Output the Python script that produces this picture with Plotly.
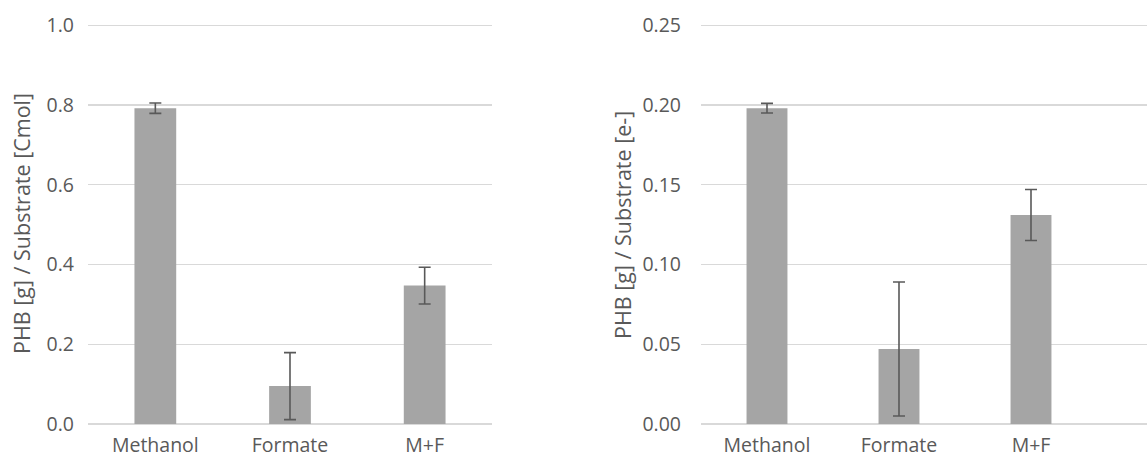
import plotly.graph_objects as go

categories = ["Methanol", "Formate", "M+F"]
cmol_values = [0.792, 0.095, 0.347]
cmol_errors = [0.013, 0.084, 0.046]
electron_values = [0.198, 0.047, 0.131]
electron_errors = [0.003, 0.042, 0.016]

left_ticks = [0.0, 0.2, 0.4, 0.6, 0.8, 1.0]
left_tick_text = ["0.0", "0.2", "0.4", "0.6", "0.8", "1.0"]
right_ticks = [0.0, 0.05, 0.10, 0.15, 0.20, 0.25]
right_tick_text = ["0.00", "0.05", "0.10", "0.15", "0.20", "0.25"]

W, H = 1147, 467
BAR = "#A5A5A5"
ERR = "#595959"
GRID = "#D9D9D9"
TXT = "#595959"
FONT = "Open Sans"
FS = 19.5
FT = 21.5

fig = go.Figure()
fig.add_trace(go.Bar(
    x=categories, y=cmol_values, marker_color=BAR, marker_line_width=0,
    error_y=dict(type="data", array=cmol_errors, color=ERR, thickness=1.6, width=6),
    xaxis="x", yaxis="y", showlegend=False, hoverinfo="skip"))
fig.add_trace(go.Bar(
    x=categories, y=electron_values, marker_color=BAR, marker_line_width=0,
    error_y=dict(type="data", array=electron_errors, color=ERR, thickness=1.6, width=6),
    xaxis="x2", yaxis="y2", showlegend=False, hoverinfo="skip"))

ydom = [1 - 424 / H, 1 - 24 / H]
common_y = dict(showgrid=True, gridcolor=GRID, gridwidth=1.3, zeroline=True,
                zerolinecolor=GRID, zerolinewidth=1.3, showline=False,
                ticks="", tickfont=dict(family=FONT, size=FS, color=TXT),
                domain=ydom, automargin=False)
common_x = dict(showgrid=False, zeroline=False, showline=False, ticks="",
                tickfont=dict(family=FONT, size=FS, color=TXT), type="category",
                automargin=False, ticklabelstandoff=7)

fig.update_layout(
    width=W, height=H,
    margin=dict(l=0, r=0, t=0, b=0, pad=0),
    paper_bgcolor="white", plot_bgcolor="white",
    bargap=0.69,
    xaxis=dict(domain=[88 / W, 492 / W], range=[-0.5, 2.5], anchor="y", **common_x),
    yaxis=dict(range=[0, 1.003], tickvals=left_ticks, ticktext=left_tick_text,
               anchor="x", ticklabelstandoff=13, **common_y),
    xaxis2=dict(domain=[701 / W, 1.0], range=[-0.5, 2.5 + (1147 - 1097) / 132],
                anchor="y2", **common_x),
    yaxis2=dict(range=[0, 0.25075], tickvals=right_ticks, ticktext=right_tick_text,
                anchor="x2", ticklabelstandoff=19, **common_y),
    annotations=[
        dict(text="PHB [g] / Substrate [Cmol]", x=21 / W, y=1 - 224 / H,
             xref="paper", yref="paper", textangle=-90, showarrow=False,
             xanchor="center", yanchor="middle",
             font=dict(family=FONT, size=FT, color=TXT)),
        dict(text="PHB [g] / Substrate [e-]", x=622 / W, y=1 - 225 / H,
             xref="paper", yref="paper", textangle=-90, showarrow=False,
             xanchor="center", yanchor="middle",
             font=dict(family=FONT, size=FT, color=TXT)),
    ],
)

fig.write_html(
    "out.html",
    config={"displayModeBar": False, "staticPlot": True},
    post_script="document.body.style.margin='0';document.body.style.overflow='hidden';",
)
